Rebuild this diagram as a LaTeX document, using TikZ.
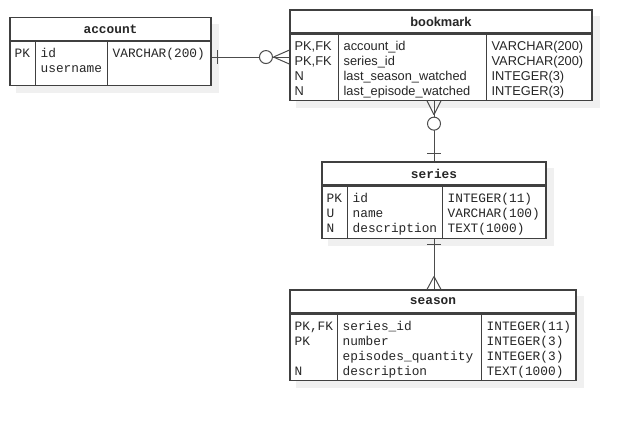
\documentclass[tikz,border=0pt]{standalone}
\usepackage{fontspec}
\setmainfont{Liberation Sans}
\setmonofont{Liberation Mono}
\usetikzlibrary{positioning, backgrounds}

\begin{document}
\begin{tikzpicture}[x=1pt, y=-1pt,
  hd/.style={draw=black!75, line width=1.1pt, fill=white, minimum height=23pt, inner sep=0pt,
             text=black!85, font=\fontsize{12.8}{15}\selectfont\bfseries},
  bd/.style={draw=black!75, line width=1.1pt, fill=white, inner sep=0pt, below=0pt of #1},
  dv/.style={draw=black!75, line width=1.1pt},
  tx/.style={inner sep=0pt, anchor=base west, text=black!85, font=\fontsize{12.8}{15}\selectfont},
  tt/.style={tx, font=\fontsize{12.8}{15}\selectfont\ttfamily},
  shd/.style={fill=black!6},
  rel/.style={draw=black!70, line width=1pt}]
\useasboundingbox (0,0) rectangle (631,420);

% account
\node[hd, minimum width=201pt, font=\fontsize{12.8}{15}\selectfont\ttfamily\bfseries] (acc-h) at (110.5,29) {account};
\node[bd=acc-h, minimum width=201pt, minimum height=44pt] (acc-b) {};
\draw[dv] ([xshift=26pt]acc-b.north west) -- ([xshift=26pt]acc-b.south west);
\draw[dv] ([xshift=98pt]acc-b.north west) -- ([xshift=98pt]acc-b.south west);
\foreach \k/\n/\t [count=\i] in {PK/id/VARCHAR(200), /username/} {
  \node[tt] (acc-k\i) at ([shift={(5,{16.5+15*(\i-1)})}]acc-b.north west) {\k};
  \node[tt] (acc-n\i) at ([shift={(31,{16.5+15*(\i-1)})}]acc-b.north west) {\n};
  \node[tt] (acc-t\i) at ([shift={(103,{16.5+15*(\i-1)})}]acc-b.north west) {\t};
}

% bookmark
\node[hd, minimum width=302pt] (bm-h) at (441,21.5) {bookmark};
\node[bd=bm-h, minimum width=302pt, minimum height=66pt] (bm-b) {};
\draw[dv] ([xshift=49pt]bm-b.north west) -- ([xshift=49pt]bm-b.south west);
\draw[dv] ([xshift=197pt]bm-b.north west) -- ([xshift=197pt]bm-b.south west);
\foreach \k/\n/\t [count=\i] in {{PK,FK}/account\_id/VARCHAR(200), {PK,FK}/series\_id/VARCHAR(200),
    N/last\_season\_watched/INTEGER(3), N/last\_episode\_watched/INTEGER(3)} {
  \node[tx] (bm-k\i) at ([shift={(5,{16.5+15*(\i-1)})}]bm-b.north west) {\k};
  \node[tx] (bm-n\i) at ([shift={(54,{16.5+15*(\i-1)})}]bm-b.north west) {\n};
  \node[tx] (bm-t\i) at ([shift={(202,{16.5+15*(\i-1)})}]bm-b.north west) {\t};
}

% series
\node[hd, minimum width=224pt, font=\fontsize{12.8}{15}\selectfont\ttfamily\bfseries] (se-h) at (434,173.5) {series};
\node[bd=se-h, minimum width=224pt, minimum height=52pt] (se-b) {};
\draw[dv] ([xshift=26pt]se-b.north west) -- ([xshift=26pt]se-b.south west);
\draw[dv] ([xshift=121pt]se-b.north west) -- ([xshift=121pt]se-b.south west);
\foreach \k/\n/\t [count=\i] in {PK/id/INTEGER(11), U/name/VARCHAR(100), N/description/TEXT(1000)} {
  \node[tt] (se-k\i) at ([shift={(5,{16.5+15*(\i-1)})}]se-b.north west) {\k};
  \node[tt] (se-n\i) at ([shift={(31,{16.5+15*(\i-1)})}]se-b.north west) {\n};
  \node[tt] (se-t\i) at ([shift={(126,{16.5+15*(\i-1)})}]se-b.north west) {\t};
}

% season
\node[hd, minimum width=286pt, font=\fontsize{12.8}{15}\selectfont\ttfamily\bfseries] (sn-h) at (433,301.5) {season};
\node[bd=sn-h, minimum width=286pt, minimum height=66pt] (sn-b) {};
\draw[dv] ([xshift=48pt]sn-b.north west) -- ([xshift=48pt]sn-b.south west);
\draw[dv] ([xshift=192pt]sn-b.north west) -- ([xshift=192pt]sn-b.south west);
\foreach \k/\n/\t [count=\i] in {{PK,FK}/series\_id/INTEGER(11), PK/number/INTEGER(3),
    /episodes\_quantity/INTEGER(3), N/description/TEXT(1000)} {
  \node[tt] (sn-k\i) at ([shift={(5,{16.5+15*(\i-1)})}]sn-b.north west) {\k};
  \node[tt] (sn-n\i) at ([shift={(53,{16.5+15*(\i-1)})}]sn-b.north west) {\n};
  \node[tt] (sn-t\i) at ([shift={(197,{16.5+15*(\i-1)})}]sn-b.north west) {\t};
}

% shadows
\begin{scope}[on background layer]
  \foreach \tb in {acc, bm, se, sn}
    \fill[shd] ([shift={(7,7)}]\tb-h.north west) rectangle ([shift={(7,7)}]\tb-b.south east);
\end{scope}

% account -- bookmark
\coordinate (a1) at ([shift={(0,16)}]acc-b.north east);
\draw[rel] (a1) -- (a1 -| bm-b.west) coordinate (b1);
\draw[rel] ([shift={(6,-7)}]a1) -- ([shift={(6,7)}]a1);
\draw[rel, fill=white] ([shift={(-23.5,0)}]b1) circle (6.5);
\draw[rel] ([shift={(-16,0)}]b1) -- ([shift={(0,-7)}]b1) ([shift={(-16,0)}]b1) -- ([shift={(0,7)}]b1);

% bookmark -- series
\coordinate (b2) at (bm-b.south -| se-h.north);
\draw[rel] (b2) -- (se-h.north);
\draw[rel] ([shift={(0,14)}]b2) -- ([shift={(-7,0)}]b2) ([shift={(0,14)}]b2) -- ([shift={(7,0)}]b2);
\draw[rel, fill=white] ([shift={(0,23)}]b2) circle (6.5);
\draw[rel] ([shift={(-7,-8)}]se-h.north) -- ([shift={(7,-8)}]se-h.north);

% series -- season
\draw[rel] (se-b.south) -- (se-b.south |- sn-h.north) coordinate (c3);
\draw[rel] ([shift={(-7,6)}]se-b.south) -- ([shift={(7,6)}]se-b.south);
\draw[rel] ([shift={(0,-13)}]c3) -- ([shift={(-7,0)}]c3) ([shift={(0,-13)}]c3) -- ([shift={(7,0)}]c3);
\end{tikzpicture}
\end{document}
